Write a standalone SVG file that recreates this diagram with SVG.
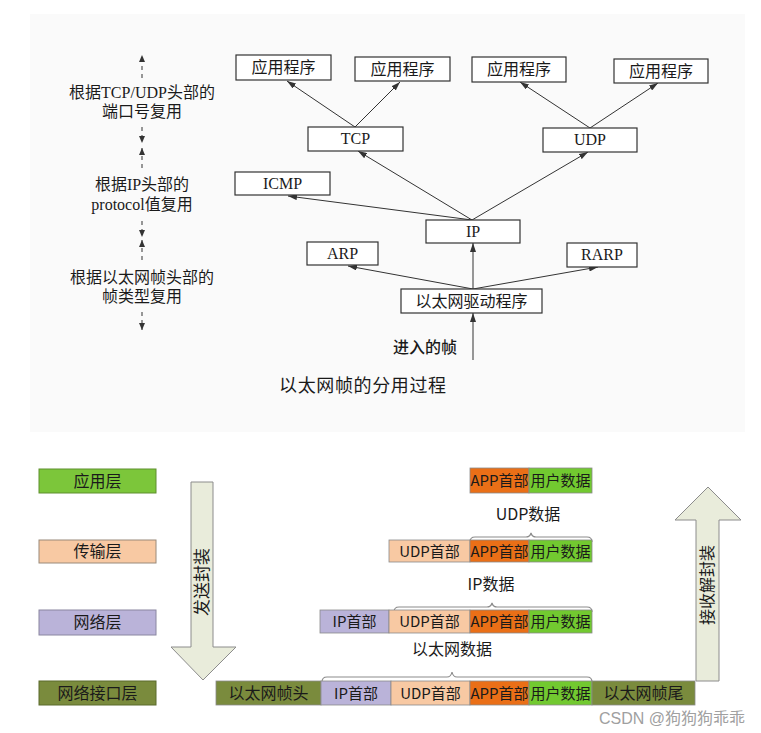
<svg xmlns="http://www.w3.org/2000/svg" width="761" height="733" viewBox="0 0 761 733">
<style>
.bg{fill:#ffffff}
.panel{fill:#fafafa}
.box{fill:#ffffff;stroke:#333;stroke-width:1.2}
.t{font-family:"Liberation Serif","Noto Sans CJK SC",serif;font-size:16px;fill:#1a1a1a;text-anchor:middle}
.lbl{font-family:"Liberation Serif","Noto Sans CJK SC",serif;font-size:16px;fill:#1a1a1a;text-anchor:middle}
.edge{stroke:#333;stroke-width:1;fill:none;marker-end:url(#ah)}
.dash{stroke:#333;stroke-width:1;fill:none;stroke-dasharray:4,4}
.b{font-family:"Noto Sans CJK SC","Liberation Sans",sans-serif;font-size:15px;fill:#1a1a1a;text-anchor:middle}
.cell{stroke:#8a8a8a;stroke-width:0.8}
.app{fill:#ea6f17}
.usr{fill:#72c930}
.udp{fill:#f8c9a3}
.ip{fill:#bab3d9}
.eth{fill:#7a8b3d}
.brace{stroke:#8c8c8c;stroke-width:1.2;fill:none}
.big{fill:#e9ecdb;stroke:#8c8c8c;stroke-width:1}
</style>
<defs>
<marker id="ah" markerWidth="9" markerHeight="6" refX="9" refY="3" orient="auto" markerUnits="userSpaceOnUse">
<path d="M0,0 L9,3 L0,6 z" fill="#333"/>
</marker>
<marker id="dh" markerWidth="7" markerHeight="6" refX="7" refY="3" orient="auto" markerUnits="userSpaceOnUse">
<path d="M0,0 L7,3 L0,6 z" fill="#333"/>
</marker>
</defs>
<rect class="bg" x="0" y="0" width="761" height="733"/>
<rect class="panel" x="30" y="14" width="715" height="418"/>

<g id="connectors">
<line class="edge" x1="355" y1="127" x2="287" y2="81"/>
<line class="edge" x1="355" y1="127" x2="400" y2="82"/>
<line class="edge" x1="590" y1="128" x2="520" y2="82"/>
<line class="edge" x1="590" y1="128" x2="658" y2="83"/>
<line class="edge" x1="472" y1="220" x2="358" y2="151"/>
<line class="edge" x1="472" y1="220" x2="588" y2="152"/>
<line class="edge" x1="472" y1="220" x2="288" y2="196"/>
<line class="edge" x1="473" y1="289" x2="473" y2="243"/>
<line class="edge" x1="473" y1="289" x2="348" y2="266"/>
<line class="edge" x1="473" y1="289" x2="598" y2="267"/>
<line class="edge" x1="473" y1="360" x2="473" y2="313"/>
<line class="dash" x1="142" y1="78" x2="142" y2="55" marker-end="url(#dh)"/>
<line class="dash" x1="142" y1="127" x2="142" y2="143" marker-end="url(#dh)"/>
<line class="dash" x1="142" y1="168" x2="142" y2="148" marker-end="url(#dh)"/>
<line class="dash" x1="142" y1="221" x2="142" y2="237" marker-end="url(#dh)"/>
<line class="dash" x1="142" y1="260" x2="142" y2="240" marker-end="url(#dh)"/>
<line class="dash" x1="142" y1="312" x2="142" y2="330" marker-end="url(#dh)"/>
</g>

<g id="label-tcpudp">
<text class="lbl" x="142" y="98">根据TCP/UDP头部的</text>
<text class="lbl" x="142" y="117">端口号复用</text>
</g>
<g id="label-ip">
<text class="lbl" x="142" y="190">根据IP头部的</text>
<text class="lbl" x="142" y="210">protocol值复用</text>
</g>
<g id="label-eth">
<text class="lbl" x="142" y="283">根据以太网帧头部的</text>
<text class="lbl" x="142" y="302">帧类型复用</text>
</g>

<g id="app1"><rect class="box" x="236" y="55" width="95" height="25"/><text class="t" x="283.5" y="73">应用程序</text></g>
<g id="app2"><rect class="box" x="355" y="57" width="95" height="24"/><text class="t" x="402.5" y="75">应用程序</text></g>
<g id="app3"><rect class="box" x="472" y="57" width="94" height="25"/><text class="t" x="519" y="75">应用程序</text></g>
<g id="app4"><rect class="box" x="614" y="59" width="94" height="24"/><text class="t" x="661" y="77">应用程序</text></g>
<g id="tcp"><rect class="box" x="308" y="127" width="95" height="24"/><text class="t" x="355.5" y="144">TCP</text></g>
<g id="udp"><rect class="box" x="543" y="128" width="94" height="24"/><text class="t" x="590" y="145">UDP</text></g>
<g id="icmp"><rect class="box" x="235" y="172" width="95" height="23"/><text class="t" x="282.5" y="189">ICMP</text></g>
<g id="ip"><rect class="box" x="426" y="220" width="94" height="23"/><text class="t" x="473" y="237">IP</text></g>
<g id="arp"><rect class="box" x="307" y="242" width="71" height="23"/><text class="t" x="342.5" y="259">ARP</text></g>
<g id="rarp"><rect class="box" x="567" y="243" width="70" height="24"/><text class="t" x="602" y="260">RARP</text></g>
<g id="driver"><rect class="box" x="401" y="289" width="141" height="24"/><text class="t" x="471.5" y="307">以太网驱动程序</text></g>
<g id="incoming"><text class="t" x="425" y="353" font-weight="500">进入的帧</text></g>
<g id="caption"><text class="t" x="279" y="392" textLength="167" lengthAdjust="spacing" style="font-size:18px;text-anchor:start">以太网帧的分用过程</text></g>

<g id="layer-app"><rect x="39" y="469" width="117" height="24" fill="#7cc63a" stroke="#5f8f2e" stroke-width="1"/><text class="b" x="97.5" y="487" style="font-size:16px">应用层</text></g>
<g id="layer-trans"><rect x="39" y="540" width="117" height="23" fill="#f8c9a3" stroke="#9a8a7a" stroke-width="1"/><text class="b" x="97.5" y="557" style="font-size:16px">传输层</text></g>
<g id="layer-net"><rect x="39" y="610" width="117" height="25" fill="#bab3d9" stroke="#8a86a0" stroke-width="1"/><text class="b" x="97.5" y="628" style="font-size:16px">网络层</text></g>
<g id="layer-link"><rect x="39" y="681" width="117" height="24" fill="#7a8b3d" stroke="#5b6a2c" stroke-width="1"/><text class="b" x="97.5" y="699" style="font-size:16px">网络接口层</text></g>

<g id="arrow-send">
<path class="big" d="M191,482 L213,482 L213,647 L236,647 L203,680 L171,647 L191,647 Z"/>
<text class="b" x="0" y="0" transform="translate(208,582) rotate(-90)" style="font-size:17px">发送封装</text>
</g>
<g id="arrow-recv">
<path class="big" d="M696,681 L696,520 L675,520 L708,487 L741,520 L719,520 L719,681 Z"/>
<text class="b" x="0" y="0" transform="translate(713,585) rotate(-90)" style="font-size:16px">接收解封装</text>
</g>

<g id="row-app">
<rect class="cell app" x="470" y="468" width="59" height="25"/><text class="b" x="499.5" y="486">APP首部</text>
<rect class="cell usr" x="529" y="468" width="63" height="25"/><text class="b" x="560.5" y="486">用户数据</text>
</g>
<g id="label-udpdata"><text class="b" x="528" y="520" style="font-size:16px">UDP数据</text>
<path class="brace" d="M470,542 Q470,537 475,537 L526,537 Q530,537 531,533 Q532,537 536,537 L587,537 Q592,537 592,542"/></g>
<g id="row-udp">
<rect class="cell udp" x="389" y="540" width="81" height="22"/><text class="b" x="429.5" y="557">UDP首部</text>
<rect class="cell app" x="470" y="540" width="59" height="22"/><text class="b" x="499.5" y="557">APP首部</text>
<rect class="cell usr" x="529" y="540" width="63" height="22"/><text class="b" x="560.5" y="557">用户数据</text>
</g>
<g id="label-ipdata"><text class="b" x="491" y="590" style="font-size:16px">IP数据</text>
<path class="brace" d="M394,612 Q394,607 399,607 L487,607 Q491,607 492,603 Q493,607 497,607 L587,607 Q592,607 592,612"/></g>
<g id="row-ip">
<rect class="cell ip" x="320" y="610" width="69" height="23"/><text class="b" x="354.5" y="627">IP首部</text>
<rect class="cell udp" x="389" y="610" width="81" height="23"/><text class="b" x="429.5" y="627">UDP首部</text>
<rect class="cell app" x="470" y="610" width="59" height="23"/><text class="b" x="499.5" y="627">APP首部</text>
<rect class="cell usr" x="529" y="610" width="63" height="23"/><text class="b" x="560.5" y="627">用户数据</text>
</g>
<g id="label-ethdata"><text class="b" x="452" y="655" style="font-size:16px">以太网数据</text>
<path class="brace" d="M322,682 Q322,677 327,677 L447,677 Q451,677 452,672 Q453,677 457,677 L587,677 Q592,677 592,682"/></g>
<g id="row-eth">
<rect class="cell eth" x="216" y="681" width="105" height="24"/><text class="b" x="268.5" y="699" style="font-size:16px">以太网帧头</text>
<rect class="cell ip" x="321" y="681" width="70" height="24"/><text class="b" x="356" y="699">IP首部</text>
<rect class="cell udp" x="391" y="681" width="79" height="24"/><text class="b" x="430.5" y="699">UDP首部</text>
<rect class="cell app" x="470" y="681" width="59" height="24"/><text class="b" x="499.5" y="699">APP首部</text>
<rect class="cell usr" x="529" y="681" width="63" height="24"/><text class="b" x="560.5" y="699">用户数据</text>
<rect class="cell eth" x="592" y="681" width="103" height="24"/><text class="b" x="643.5" y="699" style="font-size:16px">以太网帧尾</text>
</g>
<g id="watermark"><text x="745" y="724" style="font-family:'Liberation Sans','Noto Sans CJK SC',sans-serif;font-size:16px;fill:#a0a0a0;text-anchor:end">CSDN @狗狗狗乖乖</text></g>
</svg>
